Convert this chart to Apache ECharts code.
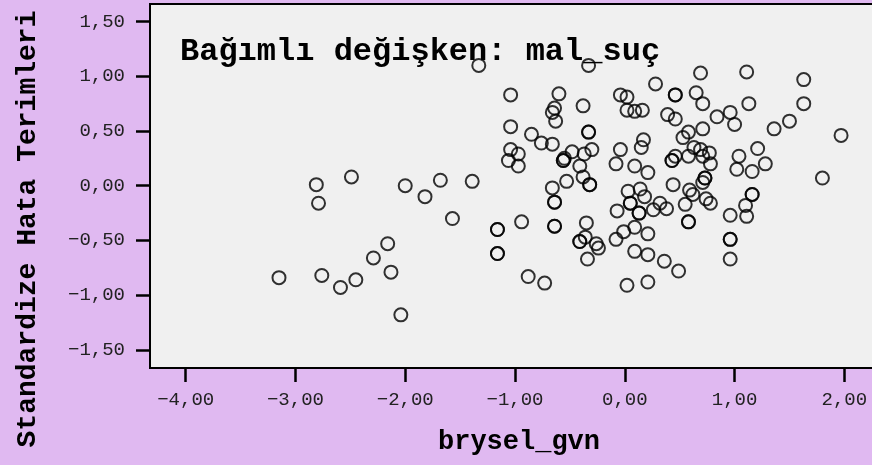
<!DOCTYPE html>
<html>
<head>
<meta charset="utf-8">
<script src="https://cdn.jsdelivr.net/npm/echarts@6/dist/echarts.min.js"></script>
<style>
  html, body { margin: 0; padding: 0; background: #e0b9f1; }
  #main { width: 872px; height: 465px; }
</style>
</head>
<body>
<div id="main"></div>
<script>
// brysel_gvn (x) ve standardize hata terimleri (y), cift daireler iki kez yazildi
var bryselGvn = [
    -2.81, -2.79, -2.49, -2.00, -1.82, -1.68, -1.57, -1.39, -1.16, -1.16,
    -1.16, -1.16, -2.16, -2.29, -2.13, -3.15, -2.76, -2.59, -2.45, -2.04,
    -1.33, -1.04, -1.04, -0.85, -1.04, -0.97, -1.06, -0.97, -0.94, -0.88,
    -0.73, -0.33, -0.60, -0.64, -0.66, -0.63, -0.38, -0.33, -0.33, -0.76,
    -0.66, -0.48, -0.55, -0.56, -0.56, -0.37, -0.30, -0.41, -0.53, -0.66,
    -0.38, -0.32, -0.32, -0.64, -0.64, -0.64, -0.64, -0.35, -0.41, -0.41,
    -0.36, -0.26, -0.24, -0.34, -0.04, 0.02, 0.02, 0.09, 0.16, 0.28,
    0.46, 0.46, 0.39, 0.46, -0.04, -0.08, 0.17, 0.15, 0.09, 0.21,
    0.58, 0.53, 0.43, 0.43, 0.46, 0.58, 0.03, 0.14, 0.18, 0.05,
    0.05, -0.07, 0.13, 0.13, 0.26, 0.32, 0.38, 0.44, 0.59, 0.62,
    0.55, 0.58, 0.58, 0.09, -0.01, -0.08, 0.21, 0.09, 0.21, 0.36,
    0.49, 0.02, 0.21, 0.69, 1.11, 1.63, 0.65, 0.71, 1.13, 1.63,
    0.84, 0.96, 1.00, 1.50, 1.36, 1.97, 0.71, 0.63, 0.69, 0.77,
    0.71, 0.78, 1.04, 1.21, 1.28, 1.02, 1.16, 1.80, 0.73, 0.73,
    0.71, 0.74, 0.78, 1.16, 1.16, 1.10, 0.96, 1.11, 0.96, 0.96,
    0.96
];
var stdResid = [
    0.01, -0.16, 0.08, 0.00, -0.10, 0.05, -0.30, 0.04, -0.40, -0.40,
    -0.62, -0.62, -0.53, -0.66, -0.79, -0.84, -0.82, -0.93, -0.86, -1.18,
    1.10, 0.83, 0.54, 0.47, 0.33, 0.29, 0.23, 0.18, -0.33, -0.83,
    -0.89, 1.10, 0.84, 0.71, 0.67, 0.59, 0.73, 0.49, 0.49, 0.39,
    0.38, 0.31, 0.25, 0.23, 0.23, 0.29, 0.33, 0.18, 0.04, -0.02,
    0.08, 0.01, 0.01, -0.15, -0.15, -0.37, -0.37, -0.34, -0.51, -0.51,
    -0.47, -0.53, -0.57, -0.67, 0.83, 0.81, 0.69, 0.68, 0.69, 0.93,
    0.83, 0.83, 0.65, 0.61, 0.33, 0.20, 0.42, 0.35, 0.18, 0.12,
    0.49, 0.44, 0.23, 0.23, 0.27, 0.27, -0.05, -0.03, -0.10, -0.16,
    -0.16, -0.23, -0.25, -0.25, -0.22, -0.16, -0.21, 0.01, -0.04, -0.08,
    -0.17, -0.33, -0.33, -0.38, -0.42, -0.49, -0.44, -0.60, -0.63, -0.69,
    -0.78, -0.91, -0.88, 1.03, 1.04, 0.97, 0.85, 0.75, 0.75, 0.75,
    0.63, 0.67, 0.56, 0.59, 0.52, 0.46, 0.52, 0.35, 0.33, 0.30,
    0.27, 0.20, 0.27, 0.34, 0.20, 0.15, 0.13, 0.07, 0.07, 0.07,
    0.03, -0.12, -0.16, -0.08, -0.08, -0.18, -0.27, -0.28, -0.49, -0.49,
    -0.67
];
var xTicks = [-4, -3, -2, -1, 0, 1, 2];
var yTicks = [-1.5, -1, -0.5, 0, 0.5, 1, 1.5];

var points = bryselGvn.map(function (x, i) { return [x, stdResid[i]]; });

function fmt(v) {
    var s = Math.abs(v).toFixed(2).replace('.', ',');
    return (v < 0 ? '\u2212' : '') + s;
}

var mono = '"Liberation Mono", "Courier New", monospace';

var myChart = echarts.init(document.getElementById('main'));
myChart.setOption({
    backgroundColor: '#e0b9f1',
    animation: false,
    grid: {
        left: 150,
        top: 4,
        right: -2,
        bottom: 97,
        show: true,
        backgroundColor: '#f0f0f0',
        borderColor: '#000',
        borderWidth: 2,
        containLabel: false,
        outerBoundsMode: 'none'
    },
    xAxis: {
        type: 'value',
        min: -4.325,
        max: 2.27,
        splitLine: { show: false },
        axisLine: { show: true, onZero: false, lineStyle: { color: '#000', width: 2 } },
        axisTick: {
            show: true, inside: false, length: 14, customValues: xTicks,
            lineStyle: { color: '#000', width: 2.5 }
        },
        axisLabel: {
            customValues: xTicks, margin: 22, formatter: fmt,
            fontFamily: mono, fontSize: 19, color: '#222'
        }
    },
    yAxis: {
        type: 'value',
        min: -1.666,
        max: 1.661,
        splitLine: { show: false },
        axisLine: { show: true, onZero: false, lineStyle: { color: '#000', width: 2 } },
        axisTick: {
            show: true, inside: false, length: 14, customValues: yTicks,
            lineStyle: { color: '#000', width: 2.5 }
        },
        axisLabel: {
            customValues: yTicks, margin: 25, formatter: fmt,
            fontFamily: mono, fontSize: 19, color: '#222'
        }
    },
    graphic: [
        {
            type: 'text', left: 180, top: 36, z: 100,
            style: {
                text: 'Bağımlı değişken: mal_suç',
                font: 'bold 32px ' + mono, fill: '#000'
            }
        },
        {
            type: 'text', x: 519, y: 442,
            style: {
                text: 'brysel_gvn', font: 'bold 27px ' + mono, fill: '#000',
                align: 'center', verticalAlign: 'middle'
            }
        },
        {
            type: 'text', x: 28, y: 229, rotation: Math.PI / 2,
            style: {
                text: 'Standardize Hata Terimleri', font: 'bold 28px ' + mono, fill: '#000',
                align: 'center', verticalAlign: 'middle'
            }
        }
    ],
    series: [{
        type: 'scatter',
        data: points,
        symbol: 'circle',
        symbolSize: 13,
        itemStyle: { color: 'rgba(0,0,0,0)', borderColor: '#000', borderWidth: 2 }
    }]
});
</script>
</body>
</html>
